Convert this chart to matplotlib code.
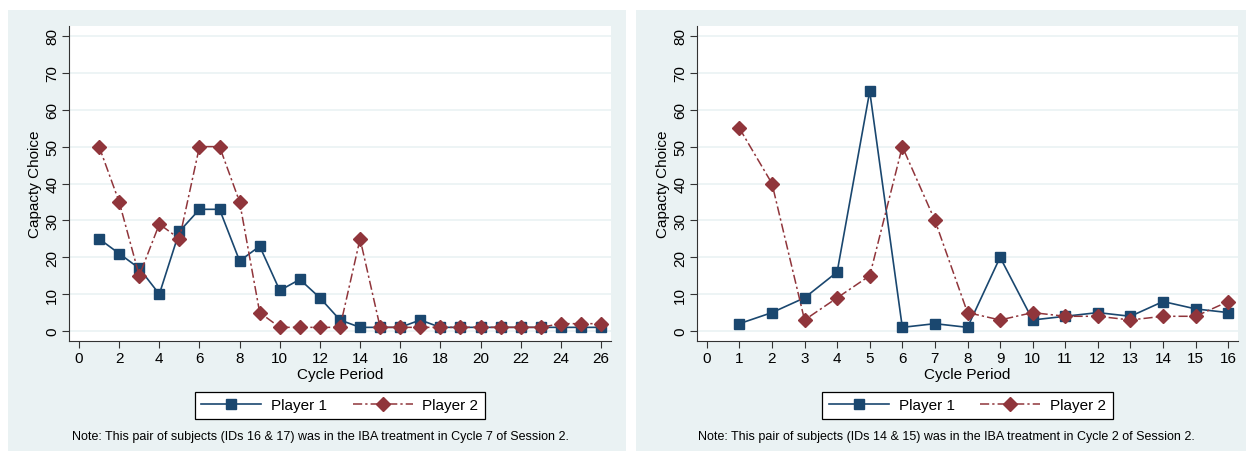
import matplotlib.pyplot as plt
from matplotlib.patches import Rectangle

plt.rcParams['font.family'] = ['Liberation Sans', 'DejaVu Sans']

# left pair: IDs 16 & 17, Cycle 7 of Session 2
periods_a = list(range(1, 27))
player1_a = [25, 21, 17, 10, 27, 33, 33, 19, 23, 11, 14, 9, 3, 1, 1, 1, 3, 1, 1, 1, 1, 1, 1, 1, 1, 1]
player2_a = [50, 35, 15, 29, 25, 50, 50, 35, 5, 1, 1, 1, 1, 25, 1, 1, 1, 1, 1, 1, 1, 1, 1, 2, 2, 2]
xticks_a = list(range(0, 27, 2))

# right pair: IDs 14 & 15, Cycle 2 of Session 2
periods_b = list(range(1, 17))
player1_b = [2, 5, 9, 16, 65, 1, 2, 1, 20, 3, 4, 5, 4, 8, 6, 5]
player2_b = [55, 40, 3, 9, 15, 50, 30, 5, 3, 5, 4, 4, 3, 4, 4, 8]
xticks_b = list(range(0, 17))

yticks = list(range(0, 81, 10))
notes = ["Note: This pair of subjects (IDs 16 & 17) was in the IBA treatment in Cycle 7 of Session 2.",
         "Note: This pair of subjects (IDs 14 & 15) was in the IBA treatment in Cycle 2 of Session 2."]

blue = '#1a476f'
red = '#90353b'
bg = '#eaf2f3'

fig = plt.figure(figsize=(12.48, 4.56), dpi=100)

# panel backgrounds
W, H = 1248.0, 456.0
for x0, x1 in [(8, 626), (636, 1246)]:
    fig.patches.append(Rectangle((x0 / W, 1 - 452 / H), (x1 - x0) / W, (452 - 11) / H,
                                 transform=fig.transFigure, facecolor=bg, edgecolor='none', zorder=-5))

panels = [
    (69, 611, periods_a, player1_a, player2_a, xticks_a, (-0.5, 26.5), 320),
    (697, 1238, periods_b, player1_b, player2_b, xticks_b, (-0.3, 16.3), 946),
]

for i, (px0, px1, x, p1, p2, xt, xl, note_x) in enumerate(panels):
    ax = fig.add_axes([px0 / W, 1 - 342 / H, (px1 - px0) / W, (342 - 27) / H])
    ax.set_zorder(2)
    ax.set_facecolor('white')
    for y in yticks:
        ax.axhline(y, color=bg, lw=1.2, zorder=1)
    l1, = ax.plot(x, p1, color=blue, lw=1.2, marker='s', markersize=7, zorder=3, label='Player 1')
    l2, = ax.plot(x, p2, color=red, lw=1.1, linestyle=(0, (6, 2, 1.5, 2)), marker='D',
                  markersize=7, zorder=3, label='Player 2')
    ax.set_xlim(*xl)
    ax.set_ylim(-2.7, 82.7)
    ax.set_xticks(xt)
    ax.set_yticks(yticks)
    ax.tick_params(axis='both', labelsize=11, length=5, width=0.8, color='#333333', pad=2)
    for lab in ax.get_yticklabels():
        lab.set_rotation(90)
        lab.set_va('center')
    ax.spines['top'].set_visible(False)
    ax.spines['right'].set_visible(False)
    ax.spines['left'].set_color('#333333')
    ax.spines['bottom'].set_color('#333333')
    ax.set_xlabel('Cycle Period', fontsize=11, labelpad=2)
    ax.set_ylabel('Capacty Choice', fontsize=11, labelpad=2)

    leg_x = (px0 + px1) / 2.0
    leg = fig.legend(handles=[l1, l2], loc='center', bbox_to_anchor=(leg_x / W, 1 - 406.5 / H),
                     ncol=2, fontsize=11, frameon=True, fancybox=False, edgecolor='black',
                     framealpha=1, handlelength=3.9, handletextpad=0.65, columnspacing=1.7,
                     borderpad=0.45)
    leg.get_frame().set_linewidth(0.9)
    fig.text(note_x / W, 1 - 437 / H, notes[i], ha='center', va='center', fontsize=9)

fig.savefig('out.png', dpi=100)
